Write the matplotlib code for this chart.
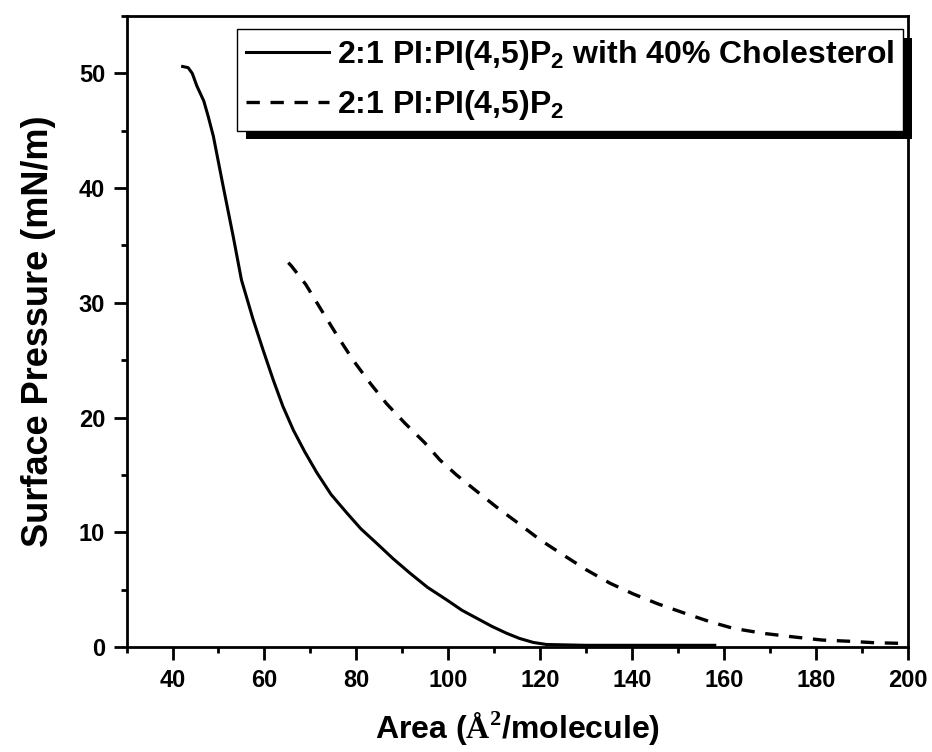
import numpy as np
import matplotlib
matplotlib.use("Agg")
import matplotlib.pyplot as plt
import matplotlib.patheffects as pe
from matplotlib.ticker import MultipleLocator

plt.rcParams['font.family'] = ['Liberation Sans', 'DejaVu Sans']
plt.rcParams['font.weight'] = 'bold'
plt.rcParams['mathtext.fontset'] = 'custom'
plt.rcParams['mathtext.rm'] = 'Liberation Serif:bold'
plt.rcParams['mathtext.sf'] = 'Liberation Sans:bold'

# 2:1 PI:PI(4,5)P2 with 40% cholesterol (solid)
area_chol = [42.2, 43.4, 44.3, 45.3, 46.8, 47.8, 48.9, 51.0, 53.2, 55.0, 57.5,
             59.7, 61.9, 64.0, 66.3, 68.8, 71.4, 74.5, 77.9, 81.0, 84.4, 88.0,
             91.7, 95.5, 99.7, 103.0, 106.9, 109.5, 112.7, 115.5, 118.5, 121.4,
             130, 140, 150, 158]
press_chol = [50.6, 50.5, 50.0, 48.9, 47.6, 46.2, 44.5, 40.2, 35.8, 32.0, 28.6,
              25.9, 23.3, 21.0, 18.9, 17.0, 15.2, 13.3, 11.7, 10.3, 9.05, 7.7,
              6.43, 5.2, 4.1, 3.2, 2.36, 1.8, 1.2, 0.75, 0.4, 0.22,
              0.15, 0.15, 0.15, 0.15]

# 2:1 PI:PI(4,5)P2 (dashed)
area_pi = [65.2, 65.9, 69.0, 72.5, 75.9, 79.3, 83.0, 86.6, 90.6, 94.9, 98.2,
           101.8, 105.5, 110.5, 115.2, 120.0, 125.0, 130.1, 135.2, 140.3, 145.7,
           151.5, 157.0, 162.0, 168.6, 174.7, 181.3, 187.4, 192.5, 198.3, 200]
press_pi = [33.5, 33.2, 31.6, 29.3, 27.1, 25.0, 23.0, 21.2, 19.5, 17.8, 16.3,
            15.0, 13.8, 12.2, 10.8, 9.34, 8.03, 6.72, 5.56, 4.62, 3.75,
            2.94, 2.2, 1.63, 1.19, 0.9, 0.61, 0.5, 0.38, 0.32, 0.3]

labels = [r"2:1 PI:PI(4,5)P$_\mathsf{2}$ with 40% Cholesterol",
          r"2:1 PI:PI(4,5)P$_\mathsf{2}$"]

fig = plt.figure(figsize=(9.32, 7.52), dpi=100)
ax = fig.add_axes([0.1358, 0.1396, 0.8382, 0.8391])

ax.plot(area_chol, press_chol, color='black', lw=2.2, label=labels[0])
ax.plot(area_pi, press_pi, color='black', lw=2.4, linestyle=(0, (4, 3.2)),
        label=labels[1])

ax.set_xlim(30, 200)
ax.set_ylim(0, 55)
ax.xaxis.set_major_locator(MultipleLocator(20))
ax.xaxis.set_minor_locator(MultipleLocator(10))
ax.yaxis.set_major_locator(MultipleLocator(10))
ax.yaxis.set_minor_locator(MultipleLocator(5))
ax.set_xticks(np.arange(40, 201, 20))
ax.tick_params(which='major', direction='out', length=9.5, width=2,
               labelsize=17, pad=6)
ax.tick_params(which='minor', direction='out', length=4.5, width=2)
for s in ax.spines.values():
    s.set_linewidth(2)

ax.set_xlabel(r"Area ($\mathrm{\AA}^2$/molecule)", fontsize=23,
              fontweight='bold', labelpad=13)
ax.set_ylabel("Surface Pressure (mN/m)", fontsize=26, fontweight='bold',
              labelpad=16)

leg = ax.legend(loc='upper right', bbox_to_anchor=(0.994, 0.979),
                borderaxespad=0, fontsize=23, frameon=True, fancybox=False,
                framealpha=1, facecolor='white',
                handlelength=2.6, handletextpad=0.25, borderpad=0.28,
                labelspacing=0.5)
leg.get_frame().set_edgecolor('black')
leg.get_frame().set_linewidth(1)
leg.legendPatch.set_path_effects([
    pe.SimplePatchShadow(offset=(6.5, -6), shadow_rgbFace='black', alpha=1),
    pe.Normal()])

fig.savefig("out.png", dpi=100)
